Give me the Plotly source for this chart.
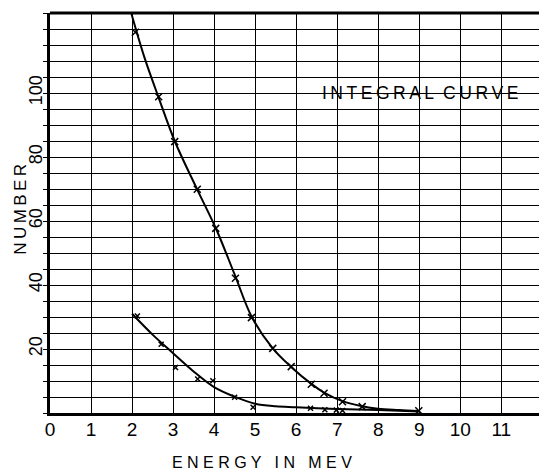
import plotly.graph_objects as go

# Data
upper_pts_x = [2.08, 2.65, 3.04, 3.59, 4.04, 4.52, 4.91, 5.43, 5.88, 6.37, 6.68, 7.13, 7.61, 8.99]
upper_pts_y = [119, 98.8, 84.8, 69.9, 57.7, 42.1, 29.8, 20.2, 14.5, 9.0, 6.2, 3.5, 2.0, 0.7]

upper_curve_x = [1.98, 2.3, 2.65, 3.04, 3.59, 4.05, 4.5, 4.92, 5.43, 5.88, 6.37, 6.68, 7.13, 7.61, 8.0, 8.5, 9.0]
upper_curve_y = [125, 111.2, 98.5, 85.0, 69.8, 57.5, 43.3, 30.0, 20.2, 14.4, 9.1, 6.4, 3.7, 2.1, 1.3, 0.9, 0.6]

lower_pts_x = [2.13, 2.71, 3.06, 3.6, 3.97, 4.5, 4.95, 6.35, 6.7, 6.98, 7.13]
lower_pts_y = [30.3, 21.5, 14.2, 10.6, 10.1, 4.9, 1.8, 1.5, 1.0, 0.9, 0.8]

lower_curve_x = [2.0, 2.5, 3.0, 3.5, 4.0, 4.5, 5.0, 5.5, 6.0, 7.0, 8.0, 9.0]
lower_curve_y = [31, 24.5, 18.7, 13.0, 8.1, 5.1, 2.9, 2.1, 1.8, 1.25, 0.9, 0.5]

x_ticks = list(range(0, 12))
y_ticks = [20, 40, 60, 80, 100]

FONT = "Liberation Sans"
TS = "\u2009"  # thin space used as letter spacing


def spaced(s):
    return "  ".join(TS.join(w) for w in s.split(" "))


fig = go.Figure()
fig.add_trace(go.Scatter(x=upper_curve_x, y=upper_curve_y, mode="lines",
                         line=dict(color="black", width=2, shape="spline", smoothing=1.0),
                         hoverinfo="skip", showlegend=False))
fig.add_trace(go.Scatter(x=lower_curve_x, y=lower_curve_y, mode="lines",
                         line=dict(color="black", width=2, shape="spline", smoothing=1.0),
                         hoverinfo="skip", showlegend=False))
fig.add_trace(go.Scatter(x=upper_pts_x, y=upper_pts_y, mode="markers",
                         marker=dict(symbol="x-thin", size=7, line=dict(color="black", width=1.5)),
                         showlegend=False))
fig.add_trace(go.Scatter(x=lower_pts_x, y=lower_pts_y, mode="markers",
                         marker=dict(symbol="x-thin", size=5, line=dict(color="black", width=1.5)),
                         showlegend=False))

fig.add_annotation(x=6.58, y=100, xref="x", yref="y", xanchor="left", yanchor="middle",
                   text=spaced("INTEGRAL CURVE"), showarrow=False,
                   font=dict(family=FONT, size=17.5, color="black"))

# axis titles
fig.add_annotation(x=0.433, y=-0.1225, xref="paper", yref="paper", xanchor="center", yanchor="middle",
                   text="E N E R G Y   I N   M E V", showarrow=False,
                   font=dict(family=FONT, size=16, color="black"))
fig.add_annotation(x=-0.062, y=0.51, xref="paper", yref="paper", xanchor="center", yanchor="middle",
                   text=TS.join("NUMBER"), textangle=-90, showarrow=False,
                   font=dict(family=FONT, size=17, color="black"))

fig.update_xaxes(range=[0, 11.92], tickvals=x_ticks, ticktext=[str(v) for v in x_ticks],
                 showgrid=True, gridcolor="black", gridwidth=1.3,
                 showline=True, linecolor="black", linewidth=3, mirror=False,
                 ticks="", zeroline=False, automargin=False, ticklabelstandoff=-3,
                 tickfont=dict(family=FONT, size=19, color="black"))
fig.update_yaxes(range=[0, 125], tickvals=y_ticks, ticktext=[str(v) for v in y_ticks],
                 tickangle=-90,
                 showgrid=True, gridcolor="black", gridwidth=1.3,
                 minor=dict(dtick=5, tick0=0, showgrid=True, gridcolor="black", gridwidth=1.3,
                            ticks="outside", ticklen=4, tickcolor="black", tickwidth=1.3),
                 ticks="outside", ticklen=4, tickcolor="black", tickwidth=1.3,
                 showline=True, linecolor="black", linewidth=3, zeroline=False, automargin=False,
                 ticklabelstandoff=-6,
                 tickfont=dict(family=FONT, size=18, color="black"))

fig.add_shape(type="line", xref="paper", yref="paper", x0=0, x1=1, y0=1, y1=1,
              line=dict(color="black", width=3))

fig.update_layout(width=539, height=470, margin=dict(l=50, r=0, t=13, b=57),
                  paper_bgcolor="white", plot_bgcolor="white")

fig.write_html("out.html", config={"displayModeBar": False},
               post_script="document.body.style.margin='0';document.body.style.overflow='hidden';")
